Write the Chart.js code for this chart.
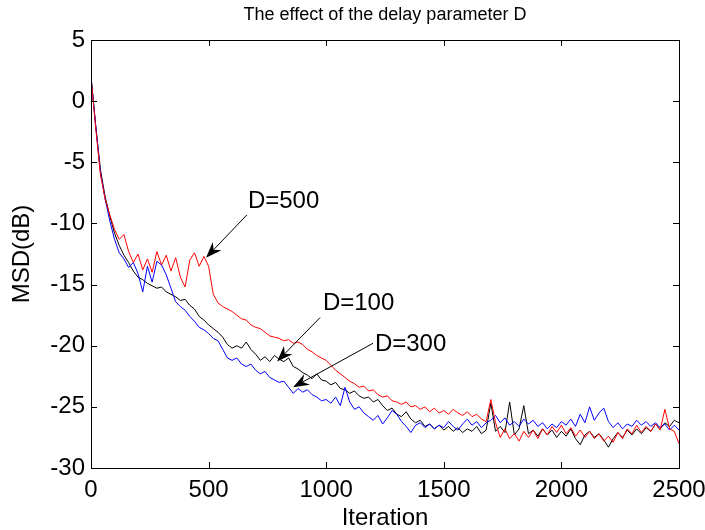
<!DOCTYPE html>
<html>
<head>
<meta charset="utf-8">
<script src="https://cdn.jsdelivr.net/npm/chart.js@4.4.1/dist/chart.umd.min.js"></script>
<style>
    html, body { margin: 0; padding: 0; background: #fff; }
</style>
</head>
<body>
<canvas id="chartContainer" width="705" height="530"></canvas>
<script>
// samples are taken every 20 iterations
const step = 20;

const msdD500 = [
    2.0, -2.2, -6.0, -8.0, -9.3, -10.5, -11.3, -10.9, -12.3, -13.2,
    -12.5, -13.8, -12.9, -14.0, -12.3, -13.4, -12.6, -13.9, -12.8, -14.4,
    -15.2, -13.0, -12.4, -13.5, -12.7, -13.5, -15.8, -16.5, -16.8, -17.0,
    -17.2, -17.5, -17.8, -17.9, -18.3, -18.5, -18.6, -18.9, -19.2, -19.3,
    -19.4, -19.6, -19.5, -19.8, -19.7, -19.9, -20.3, -20.5, -20.8, -21.0,
    -21.2, -21.6, -22.0, -22.3, -22.6, -22.9, -23.1, -23.4, -23.3, -23.7,
    -23.6, -24.0, -24.2, -24.1, -24.5, -24.6, -24.8, -24.6, -25.0, -24.9,
    -25.2, -25.0, -25.4, -25.1, -25.5, -25.3, -25.6, -25.2, -25.5, -25.7,
    -25.4, -25.8, -25.6, -26.0, -26.2, -24.4, -26.3, -27.5, -26.8, -27.6,
    -27.2, -27.8, -27.0, -27.5, -26.9, -27.6, -26.8, -27.3, -26.6, -27.1,
    -26.5, -27.2, -26.7, -27.4, -26.9, -27.5, -27.0, -27.6, -27.2, -27.8,
    -27.4, -27.9, -27.1, -27.6, -26.8, -27.2, -26.5, -27.1, -26.6, -27.0,
    -26.4, -26.9, -25.2, -26.8, -27.0, -28.0
];

const msdD100 = [
    2.0, -2.0, -5.6, -7.8, -9.4, -10.8, -11.8, -12.6, -13.2, -13.9,
    -14.4, -14.6, -14.9, -15.1, -15.3, -15.2, -15.6, -15.8, -16.0, -16.3,
    -16.2, -16.7, -17.0, -17.6, -17.9, -18.3, -18.6, -18.9, -19.3, -19.9,
    -20.2, -20.0, -20.2, -19.7, -20.3, -20.7, -21.2, -20.9, -21.3, -20.8,
    -21.1, -21.3, -21.0, -21.7, -21.9, -22.2, -22.4, -22.7, -22.3, -22.8,
    -22.9, -23.2, -23.0, -23.5, -23.6, -23.9, -23.7, -24.1, -24.3, -24.2,
    -24.6, -24.4, -24.9, -25.3, -25.1, -25.6, -25.8, -25.4, -26.0, -26.3,
    -26.1, -26.6, -26.4, -26.8, -26.5, -26.9, -26.6, -27.0, -26.7, -27.1,
    -26.8, -27.0, -26.6, -27.2, -26.9, -24.7, -27.0, -26.6, -27.1, -24.6,
    -27.3, -26.8, -24.9, -27.2, -26.9, -27.4, -26.8, -27.3, -26.9, -27.5,
    -27.0, -27.4, -26.8, -27.6, -28.1, -27.3, -27.0, -27.5, -27.2, -27.7,
    -28.3, -27.6, -27.1, -27.5, -26.9, -27.3, -26.8, -27.2, -26.7, -27.0,
    -26.4, -26.8, -26.3, -26.6, -26.1, -26.3
];

const msdD300 = [
    2.0, -2.0, -5.8, -8.0, -9.8, -11.3, -12.4, -12.9, -13.6, -13.2,
    -14.1, -15.6, -13.5, -14.8, -13.1, -13.4, -14.2, -15.3, -16.4, -16.8,
    -17.1, -17.6, -18.0, -18.5, -18.7, -19.0, -19.4, -19.6, -20.3, -21.0,
    -21.2, -21.0, -21.5, -21.7, -21.5, -22.0, -22.3, -22.1, -22.6, -22.8,
    -23.0, -22.9, -23.4, -23.9, -23.5, -23.8, -23.6, -24.0, -24.2, -24.5,
    -24.4, -24.7, -24.2, -24.9, -23.4, -24.6, -25.2, -25.0, -25.5, -25.8,
    -26.1, -25.7, -26.4, -25.9, -25.3, -25.6, -26.2, -26.6, -27.1, -26.5,
    -26.3, -26.7, -26.4, -26.8, -26.5, -26.7, -26.2, -26.6, -26.9, -26.4,
    -26.0, -26.5, -26.2, -26.7, -26.3, -26.1, -25.7, -26.3, -25.9, -26.5,
    -26.2, -26.6, -26.0, -26.4, -26.1, -26.6, -26.3, -26.8, -26.4, -26.7,
    -26.2, -26.5, -26.0, -26.6, -25.6, -26.3, -25.0, -26.1, -25.5, -25.1,
    -26.2, -26.7, -26.3, -26.8, -26.4, -26.6, -26.1, -26.5, -26.2, -26.6,
    -26.3, -26.7, -26.4, -26.9, -26.5, -26.9
];

const xTicks = [0, 500, 1000, 1500, 2000, 2500];
const yTicks = [-30, -25, -20, -15, -10, -5, 0, 5];

const titleText = 'The effect of the delay parameter D';

// text labels with arrows, in data coordinates
const labels = [
    { text: 'D=500', at: [667, -8.2], from: [663, -9.3], to: [489, -12.8] },
    { text: 'D=100', at: [986, -16.5], from: [974, -17.7], to: [791, -21.3] },
    { text: 'D=300', at: [1207, -19.9], from: [1199, -19.8], to: [859, -23.4] }
];

const font = "'Liberation Sans', Arial, Helvetica, sans-serif";

function toPoints(values) {
    return values.map((v, i) => ({ x: i * step, y: v }));
}

// title over the plot box, box, inward ticks on all four sides, and the arrows
const framePlugin = {
    id: 'frame',
    afterDatasetsDraw(chart) {
        const ctx = chart.ctx;
        const a = chart.chartArea;
        const xs = chart.scales.x;
        const ys = chart.scales.y;
        const tl = 6;
        ctx.save();
        ctx.strokeStyle = '#000';
        ctx.fillStyle = '#000';
        ctx.lineWidth = 1;

        ctx.font = '18px ' + font;
        ctx.textAlign = 'center';
        ctx.textBaseline = 'alphabetic';
        ctx.fillText(titleText, (a.left + a.right) / 2, 20);

        ctx.beginPath();
        xTicks.forEach(t => {
            const px = Math.round(xs.getPixelForValue(t)) + 0.5;
            ctx.moveTo(px, a.bottom); ctx.lineTo(px, a.bottom - tl);
            ctx.moveTo(px, a.top); ctx.lineTo(px, a.top + tl);
        });
        yTicks.forEach(t => {
            const py = Math.round(ys.getPixelForValue(t)) + 0.5;
            ctx.moveTo(a.left, py); ctx.lineTo(a.left + tl, py);
            ctx.moveTo(a.right, py); ctx.lineTo(a.right - tl, py);
        });
        ctx.stroke();
        ctx.strokeRect(Math.round(a.left) + 0.5, Math.round(a.top) + 0.5,
            Math.round(a.right - a.left), Math.round(a.bottom - a.top));

        ctx.font = '24px ' + font;
        ctx.textBaseline = 'middle';
        ctx.textAlign = 'left';
        labels.forEach(l => {
            ctx.fillText(l.text, xs.getPixelForValue(l.at[0]), ys.getPixelForValue(l.at[1]));
            const x0 = xs.getPixelForValue(l.from[0]), y0 = ys.getPixelForValue(l.from[1]);
            const x1 = xs.getPixelForValue(l.to[0]), y1 = ys.getPixelForValue(l.to[1]);
            const ang = Math.atan2(y1 - y0, x1 - x0);
            const len = 16, w = 6, notch = 11;
            ctx.beginPath();
            ctx.moveTo(x0, y0);
            ctx.lineTo(x1 - notch * Math.cos(ang), y1 - notch * Math.sin(ang));
            ctx.stroke();
            const bx = x1 - len * Math.cos(ang), by = y1 - len * Math.sin(ang);
            ctx.beginPath();
            ctx.moveTo(x1, y1);
            ctx.lineTo(bx - w * Math.sin(ang), by + w * Math.cos(ang));
            ctx.lineTo(x1 - notch * Math.cos(ang), y1 - notch * Math.sin(ang));
            ctx.lineTo(bx + w * Math.sin(ang), by - w * Math.cos(ang));
            ctx.closePath();
            ctx.fill();
        });
        ctx.restore();
    }
};

const ctx = document.getElementById('chartContainer').getContext('2d');

const chart = new Chart(ctx, {
    type: 'line',
    data: {
        datasets: [
            { label: 'D=500', data: toPoints(msdD500), borderColor: '#ff0000' },
            { label: 'D=300', data: toPoints(msdD300), borderColor: '#0000ff' },
            { label: 'D=100', data: toPoints(msdD100), borderColor: '#000000' }
        ]
    },
    options: {
        responsive: false,
        animation: false,
        devicePixelRatio: 1,
        layout: { padding: { left: 0, right: 26, top: 40, bottom: 0 } },
        elements: {
            point: { radius: 0 },
            line: { borderWidth: 1, tension: 0 }
        },
        plugins: {
            legend: { display: false },
            tooltip: { enabled: false },
            title: { display: false }
        },
        scales: {
            x: {
                type: 'linear',
                min: 0,
                max: 2500,
                afterBuildTicks: scale => { scale.ticks = xTicks.map(v => ({ value: v })); },
                afterFit: scale => {
                    scale.height = 62;
                    scale.paddingLeft = 0;
                    scale.paddingRight = 0;
                },
                grid: { display: false, drawTicks: false },
                border: { display: false },
                ticks: {
                    color: '#000', padding: 8, maxRotation: 0,
                    font: { family: font, size: 24 },
                    callback: v => String(v)
                },
                title: {
                    display: true,
                    text: 'Iteration',
                    color: '#000',
                    padding: { top: 0, bottom: -3 },
                    font: { family: font, size: 24 }
                }
            },
            y: {
                min: -30,
                max: 5,
                afterBuildTicks: scale => { scale.ticks = yTicks.map(v => ({ value: v })); },
                afterFit: scale => {
                    scale.width = 91;
                    scale.paddingTop = 0;
                    scale.paddingBottom = 0;
                },
                grid: { display: false, drawTicks: false },
                border: { display: false },
                ticks: {
                    color: '#000', padding: 6,
                    font: { family: font, size: 24 },
                    callback: v => String(v)
                },
                title: {
                    display: true,
                    text: 'MSD(dB)',
                    color: '#000',
                    padding: { top: 8, bottom: 0 },
                    font: { family: font, size: 24 }
                }
            }
        }
    },
    plugins: [framePlugin]
});
</script>
</body>
</html>
